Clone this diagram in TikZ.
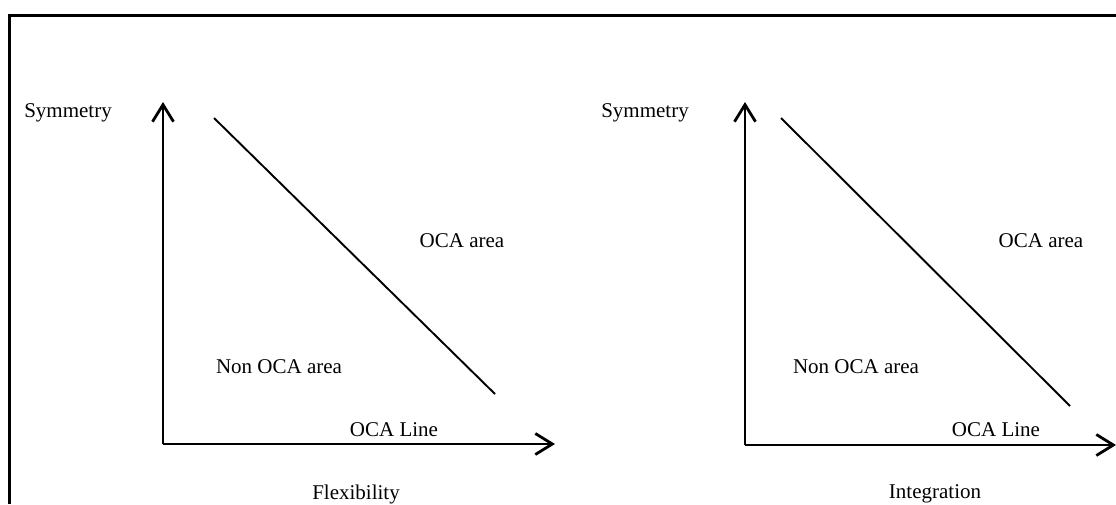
\documentclass[tikz,border=0pt]{standalone}
\usepackage{fontspec}
\setmainfont{Liberation Serif}
\usetikzlibrary{arrows.meta}
\begin{document}
\begin{tikzpicture}[x=1pt,y=-1pt,
  lbl/.style={font=\fontsize{21}{25}\selectfont, inner sep=0pt, anchor=center},
  axis/.style={line width=2.8pt, -{Straight Barb[length=17pt,width=21pt,line width=2.8pt]}},
  oca/.style={line width=1.9pt},
  frame/.style={line width=3pt}]
\useasboundingbox (0,0) rectangle (1116,504);
% frame
\coordinate (fbl) at (9,504);
\coordinate (ftl) at (9,15);
\coordinate (ftr) at (1116,15);
\draw[frame] (fbl) -- (ftl) -- (ftr);
% left panel
\coordinate (o1) at (163,444);
\coordinate (y1) at (163,102);
\coordinate (x1) at (555,444);
\draw[axis] (o1) -- (y1);
\draw[axis] (o1) -- (x1);
\coordinate (d1a) at (214,118);
\coordinate (d1b) at (495,394);
\draw[oca] (d1a) -- (d1b);
\node[lbl] (sym1) at (68,113) {Symmetry};
\node[lbl] (oca1) at (462,241) {OCA area};
\node[lbl] (non1) at (279,367) {Non OCA area};
\node[lbl] (line1) at (394,430) {OCA Line};
\node[lbl] (flex) at (356,494) {Flexibility};
% right panel
\coordinate (o2) at (745,445);
\coordinate (y2) at (745,102);
\coordinate (x2) at (1116,445);
\draw[axis] (o2) -- (y2);
\draw[axis] (o2) -- (x2);
\coordinate (d2a) at (781,118);
\coordinate (d2b) at (1070,406);
\draw[oca] (d2a) -- (d2b);
\node[lbl] (sym2) at (645,113) {Symmetry};
\node[lbl] (oca2) at (1041,241) {OCA area};
\node[lbl] (non2) at (856,367) {Non OCA area};
\node[lbl] (line2) at (996,430) {OCA Line};
\node[lbl] (integ) at (935,494) {Integration};
\end{tikzpicture}
\end{document}
